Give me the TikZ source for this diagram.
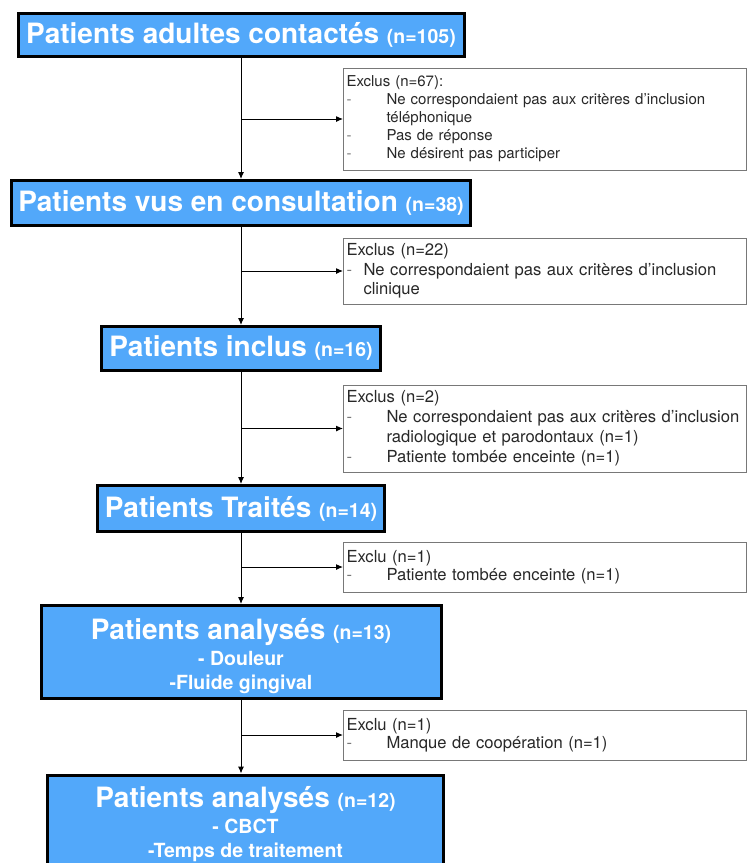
\documentclass[tikz,border=0pt]{standalone}
\usepackage{fontspec}
\setmainfont{TeX Gyre Heros}
\usetikzlibrary{arrows.meta,positioning,calc}
\definecolor{boxblue}{RGB}{82,168,250}
\definecolor{exgray}{RGB}{120,120,120}
\definecolor{extext}{RGB}{40,40,40}
\newcommand{\nsmall}[1]{{\fontsize{19.5}{24}\selectfont #1}}
\newcommand{\exitem}[2]{\makebox[#1][l]{\textcolor{exgray}{-}}#2}

\begin{document}
\begin{tikzpicture}[x=1pt,y=-1pt,line width=1pt,>={Latex[length=7pt,width=6pt]},
  mainbox/.style={draw=black,line width=3pt,fill=boxblue,text=white,align=center,
    inner sep=0pt,font=\bfseries\fontsize{28}{24}\selectfont},
  exbox/.style={draw=exgray,line width=1pt,fill=white,text=extext,anchor=west,align=left,
    text width=397pt,inner xsep=3pt,inner ysep=0pt,font=\fontsize{16.6}{19.5}\selectfont}]
\useasboundingbox (0,0) rectangle (749,863);
% main boxes
\node (contact) [mainbox,minimum width=446pt,minimum height=43pt] at (241,35)
  {Patients adultes contactés \nsmall{(n=105)}};
\node (consult) [mainbox,minimum width=459pt,minimum height=45pt] at (241,203)
  {Patients vus en consultation \nsmall{(n=38)}};
\node (inclus) [mainbox,minimum width=279pt,minimum height=44pt] at (241,348.5)
  {Patients inclus \nsmall{(n=16)}};
\node (traites) [mainbox,minimum width=287pt,minimum height=46pt] at (241,508.5)
  {Patients Traités \nsmall{(n=14)}};
\node (analyse) [mainbox,minimum width=400pt,minimum height=93pt] at (241,652)
  {\rule{0pt}{30pt}Patients analysés \nsmall{(n=13)}\\[2pt]\nsmall{- Douleur}\\\nsmall{-Fluide gingival}};
\node (cbct) [mainbox,anchor=north,minimum width=396pt,minimum height=98pt] at (245.5,773.5)
  {Patients analysés \nsmall{(n=12)}\\[2pt]\nsmall{- CBCT}\\\nsmall{-Temps de traitement}};
% exclusion boxes
\node (excl1) [exbox,minimum height=102pt,font=\fontsize{15}{18}\selectfont] at (343,119)
  {Exclus (n=67):\\
   \exitem{40pt}{Ne correspondaient pas aux critères d’inclusion}\\
   \hspace*{40pt}téléphonique\\
   \exitem{40pt}{Pas de réponse}\\
   \exitem{40pt}{Ne désirent pas participer}};
\node (excl2) [exbox,minimum height=66pt] at (343,271)
  {Exclus (n=22)\\
   \exitem{17pt}{Ne correspondaient pas aux critères d’inclusion}\\
   \hspace*{17pt}clinique};
\node (excl3) [exbox,minimum height=87pt,font=\fontsize{16.6}{20}\selectfont] at (343,428.5)
  {Exclus (n=2)\\
   \exitem{40pt}{Ne correspondaient pas aux critères d’inclusion}\\
   \hspace*{40pt}radiologique et parodontaux (n=1)\\
   \exitem{40pt}{Patiente tombée enceinte (n=1)}};
\node (excl4) [exbox,minimum height=50pt,font=\fontsize{16.6}{18}\selectfont] at (343,567)
  {Exclu (n=1)\\
   \exitem{40pt}{Patiente tombée enceinte (n=1)}};
\node (excl5) [exbox,minimum height=50pt,font=\fontsize{16.6}{18}\selectfont] at (343,735)
  {Exclu (n=1)\\
   \exitem{40pt}{Manque de coopération (n=1)}};
% flow
\draw[->] (contact) -- (consult);
\draw[->] (consult) -- (inclus);
\draw[->] (inclus) -- (traites);
\draw[->] (traites) -- (analyse);
\draw[->] (analyse) -- (analyse |- cbct.north);
% side branches
\coordinate (j1) at (contact |- excl1.west);
\coordinate (j2) at (consult |- excl2.west);
\coordinate (j3) at (inclus |- excl3.west);
\coordinate (j4) at (traites |- excl4.west);
\coordinate (j5) at (analyse |- excl5.west);
\draw[->] (j1) -- (excl1);
\draw[->] (j2) -- (excl2);
\draw[->] (j3) -- (excl3);
\draw[->] (j4) -- (excl4);
\draw[->] (j5) -- (excl5);
\end{tikzpicture}
\end{document}
